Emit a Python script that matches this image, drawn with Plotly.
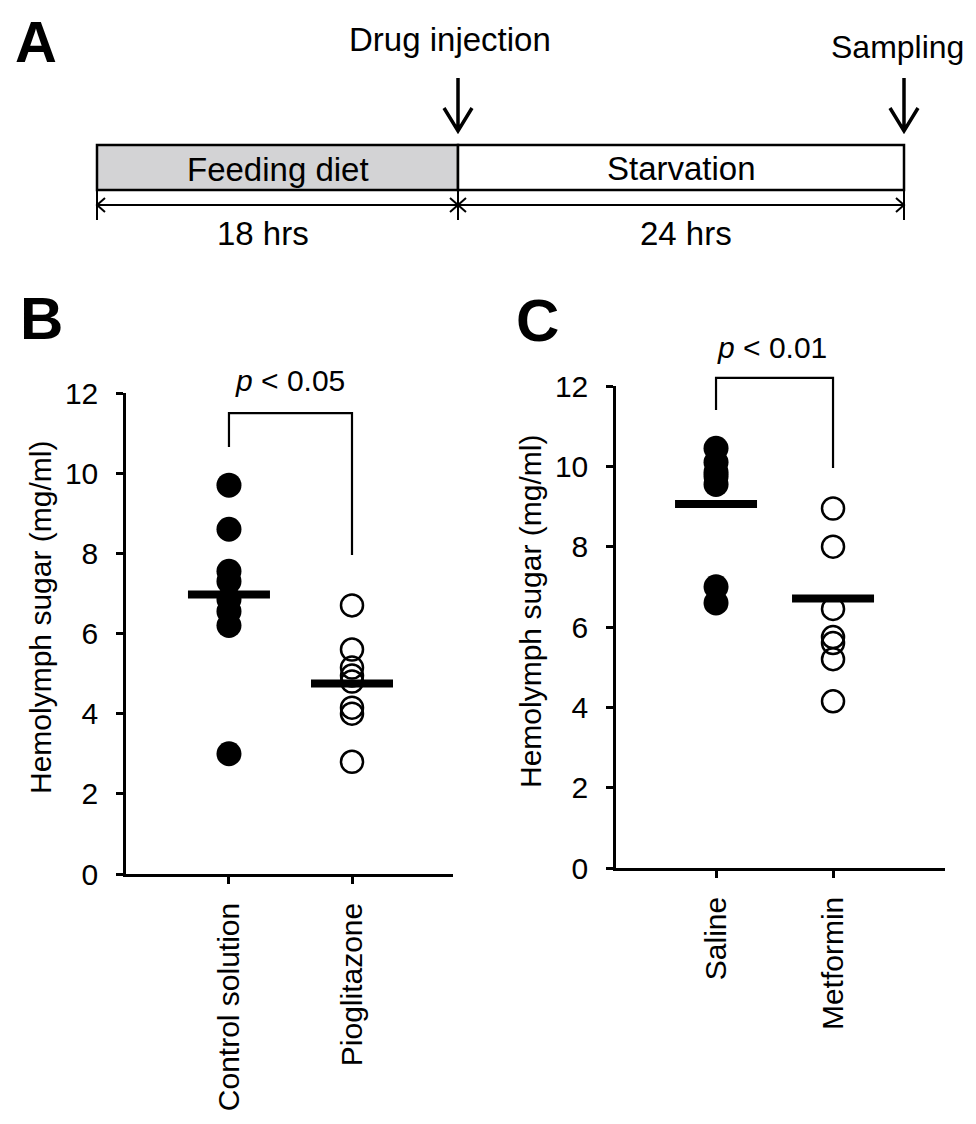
import plotly.graph_objects as go

# ---------------- data ----------------
phases = ["Feeding diet", "Starvation"]
phase_hours = [18, 24]
events = ["Drug injection", "Sampling"]

groups_b = ["Control solution", "Pioglitazone"]
control_b = [9.7, 8.6, 7.55, 7.3, 6.85, 6.55, 6.2, 3.0]
pioglitazone_b = [6.7, 5.6, 5.15, 4.95, 4.8, 4.15, 4.0, 2.8]
means_b = [6.97, 4.75]
p_text_b = "<i>p</i> < 0.05"
bracket_b = [10.65, 11.5, 11.5, 7.96]

groups_c = ["Saline", "Metformin"]
saline_c = [10.45, 10.1, 9.85, 9.75, 9.55, 7.0, 6.6]
metformin_c = [8.95, 8.0, 6.45, 5.75, 5.6, 5.2, 4.15]
means_c = [9.06, 6.71]
p_text_c = "<i>p</i> < 0.01"
bracket_c = [11.4, 12.2, 12.2, 9.96]

y_ticks = [0, 2, 4, 6, 8, 10, 12]
y_title = "Hemolymph sugar (mg/ml)"

# ---------------- layout helpers ----------------
PAGE_OFF = 8              # default body margin of the page
W, H = 976 - 2 * PAGE_OFF, 1124 - 2 * PAGE_OFF
FONT = "Liberation Sans, Arial, Helvetica, sans-serif"


def fx(px):
    return (px - PAGE_OFF) / W


def fy(py):
    return 1 - (py - PAGE_OFF) / H


# panel geometry (pixels in the screenshot)
B_left, B_right, B_bottom, B_top = 126, 453, 874, 393
C_left, C_right, C_bottom, C_top = 616, 945, 868, 386
B_xrange = [-0.837, 1.821]
C_xrange = [-0.855, 1.957]
half_bar_px = 41

fig = go.Figure()


def add_panel(xa, ya, xa2, ya2, filled, opened, means, bracket, xrange, left, right):
    px_per_unit = (right - left) / (xrange[1] - xrange[0])
    hw = half_bar_px / px_per_unit
    for i, m in enumerate(means):
        fig.add_trace(go.Scatter(x=[i - hw, i + hw], y=[m, m], mode="lines",
                                 line=dict(color="black", width=8),
                                 xaxis=xa, yaxis=ya, showlegend=False, hoverinfo="skip"))
    fig.add_trace(go.Scatter(x=[0] * len(filled), y=filled, mode="markers",
                             marker=dict(symbol="circle", size=25, color="black"),
                             xaxis=xa, yaxis=ya, showlegend=False, cliponaxis=False))
    fig.add_trace(go.Scatter(x=[1] * len(opened), y=opened, mode="markers",
                             marker=dict(symbol="circle-open", size=22, color="black",
                                         line=dict(width=2.5, color="black")),
                             xaxis=xa, yaxis=ya, showlegend=False, cliponaxis=False))
    fig.add_trace(go.Scatter(x=[0, 0, 1, 1], y=bracket, mode="lines",
                             line=dict(color="black", width=2.2),
                             xaxis=xa2, yaxis=ya2, showlegend=False, hoverinfo="skip"))


add_panel("x", "y", "x3", "y3", control_b, pioglitazone_b, means_b, bracket_b, B_xrange, B_left, B_right)
add_panel("x2", "y2", "x4", "y4", saline_c, metformin_c, means_c, bracket_c, C_xrange, C_left, C_right)

axis_common = dict(showgrid=False, zeroline=False, showline=True, linecolor="black",
                   linewidth=2.5, ticks="outside", ticklen=7, tickwidth=2.5, tickcolor="black",
                   automargin=False,
                   tickfont=dict(family=FONT, size=30, color="black"))
hidden = dict(visible=False, automargin=False, showgrid=False, zeroline=False)

unitB = (fy(B_top) - fy(B_bottom)) / 12
unitC = (fy(C_top) - fy(C_bottom)) / 12

fig.update_layout(
    template="none",
    width=W, height=H, margin=dict(l=0, r=0, t=0, b=0, pad=0), autosize=False,
    paper_bgcolor="white", plot_bgcolor="rgba(0,0,0,0)", showlegend=False,
    xaxis=dict(domain=[fx(B_left), fx(B_right)], range=B_xrange, tickmode="array",
               tickvals=[0, 1], ticktext=groups_b, tickangle=-90, ticklabelstandoff=7,
               anchor="y", **axis_common),
    yaxis=dict(domain=[fy(B_bottom), fy(B_top)], range=[0, 12], tickmode="array",
               tickvals=y_ticks, ticklabelstandoff=12, anchor="x", **axis_common),
    xaxis2=dict(domain=[fx(C_left), fx(C_right)], range=C_xrange, tickmode="array",
                tickvals=[0, 1], ticktext=groups_c, tickangle=-90, ticklabelstandoff=7,
                anchor="y2", **axis_common),
    yaxis2=dict(domain=[fy(C_bottom), fy(C_top)], range=[0, 12], tickmode="array",
                tickvals=y_ticks, ticklabelstandoff=12, anchor="x2", **axis_common),
    xaxis3=dict(domain=[fx(B_left), fx(B_right)], range=B_xrange, anchor="y3", **hidden),
    yaxis3=dict(domain=[fy(B_bottom), fy(B_bottom) + 14 * unitB], range=[0, 14], anchor="x3", **hidden),
    xaxis4=dict(domain=[fx(C_left), fx(C_right)], range=C_xrange, anchor="y4", **hidden),
    yaxis4=dict(domain=[fy(C_bottom), fy(C_bottom) + 14 * unitC], range=[0, 14], anchor="x4", **hidden),
)

ann = []


def text(x, y, s, size=30, bold=False, angle=0, xanchor="center"):
    ann.append(dict(x=fx(x), y=fy(y), xref="paper", yref="paper", text=("<b>%s</b>" % s) if bold else s,
                    showarrow=False, xanchor=xanchor, yanchor="middle", textangle=angle,
                    font=dict(family=FONT, size=size, color="black")))


text(36, 42, "A", size=58, bold=True)
text(41, 318, "B", size=60, bold=True)
text(537, 320, "C", size=60, bold=True)
text(40, 618, y_title, angle=-90)
text(530, 612, y_title, angle=-90)
text(290, 380, p_text_b)
text(772, 348, p_text_c)

# ---------------- panel A schematic ----------------
A_x0, A_xm, A_x1 = 97, 458, 904
box_top, box_bot = 145, 190
dim_y = 205
shapes = []
LW = 2.5
shapes.append(dict(type="rect", xref="paper", yref="paper", x0=fx(A_x0), x1=fx(A_xm),
                   y0=fy(box_bot), y1=fy(box_top), fillcolor="#d3d3d5",
                   line=dict(color="black", width=LW), layer="below"))
shapes.append(dict(type="rect", xref="paper", yref="paper", x0=fx(A_xm), x1=fx(A_x1),
                   y0=fy(box_bot), y1=fy(box_top), fillcolor="white",
                   line=dict(color="black", width=LW), layer="below"))


def path(points_list):
    parts = []
    for pts in points_list:
        parts.append("M " + " L ".join("%.5f,%.5f" % (fx(a), fy(b)) for a, b in pts))
    return " ".join(parts)


dim_paths = [
    [(A_x0, dim_y), (A_x1, dim_y)],
    [(A_x0, box_bot), (A_x0, 220)],
    [(A_xm, box_bot), (A_xm, 220)],
    [(A_x1, box_bot), (A_x1, 220)],
    [(A_x0 + 8, dim_y - 7), (A_x0, dim_y), (A_x0 + 8, dim_y + 7)],
    [(A_xm - 8, dim_y - 7), (A_xm, dim_y), (A_xm - 8, dim_y + 7)],
    [(A_xm + 8, dim_y - 7), (A_xm, dim_y), (A_xm + 8, dim_y + 7)],
    [(A_x1 - 8, dim_y - 7), (A_x1, dim_y), (A_x1 - 8, dim_y + 7)],
]
shapes.append(dict(type="path", xref="paper", yref="paper", path=path(dim_paths),
                   line=dict(color="black", width=2)))

arrow_paths = []
for ax in (A_xm, A_x1):
    arrow_paths.append([(ax, 78), (ax, 131)])
    arrow_paths.append([(ax - 14, 108), (ax, 131), (ax + 14, 108)])
shapes.append(dict(type="path", xref="paper", yref="paper", path=path(arrow_paths),
                   line=dict(color="black", width=3.5)))

text((A_x0 + A_xm) / 2, 170, phases[0], size=33)
text((A_xm + A_x1) / 2, 168, phases[1], size=33)
text(263, 233, "%d hrs" % phase_hours[0], size=33)
text(686, 233, "%d hrs" % phase_hours[1], size=33)
text(450, 40, events[0], size=33)
text(966, 47, events[1], size=32, xanchor="right")

fig.update_layout(annotations=ann, shapes=shapes)
fig.write_html("out.html")
